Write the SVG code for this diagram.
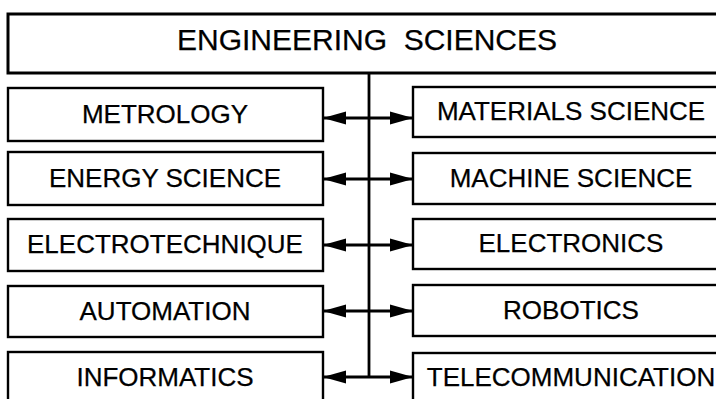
<svg xmlns="http://www.w3.org/2000/svg" width="716" height="399" viewBox="0 0 716 399">
<style>
.box{fill:#fff;stroke:#000;stroke-width:2.4}
.title{fill:#fff;stroke:#000;stroke-width:3}
.t{font-family:"Liberation Sans",Arial,sans-serif;font-size:26px;fill:#000;stroke:#000;stroke-width:0.25;text-anchor:middle}
.tt{font-family:"Liberation Sans",Arial,sans-serif;font-size:30px;fill:#000;stroke:#000;stroke-width:0.25;text-anchor:middle}
.c{stroke:#000;stroke-width:2.8;fill:none}
</style>
<defs>
<marker id="ah" markerUnits="userSpaceOnUse" markerWidth="24" markerHeight="14" refX="22" refY="7" orient="auto-start-reverse">
<path d="M0,0.5 L23,7 L0,13.5 Z" fill="#000"/>
</marker>
</defs>
<rect width="716" height="399" fill="#fff"/>
<g id="engineering-sciences">
<rect class="title" x="8" y="14" width="740" height="59"/>
<text class="tt" x="367" y="50" xml:space="preserve">ENGINEERING  SCIENCES</text>
</g>
<g id="connectors">
<line class="c" x1="369" y1="73" x2="369" y2="378"/>
<line class="c" x1="324" y1="118" x2="412" y2="118" marker-start="url(#ah)" marker-end="url(#ah)"/>
<line class="c" x1="324" y1="179" x2="412" y2="179" marker-start="url(#ah)" marker-end="url(#ah)"/>
<line class="c" x1="324" y1="245" x2="412" y2="245" marker-start="url(#ah)" marker-end="url(#ah)"/>
<line class="c" x1="324" y1="311" x2="412" y2="311" marker-start="url(#ah)" marker-end="url(#ah)"/>
<line class="c" x1="324" y1="377" x2="412" y2="377" marker-start="url(#ah)" marker-end="url(#ah)"/>
</g>
<g id="metrology"><rect class="box" x="8" y="88" width="315" height="53"/><text class="t" x="165" y="123">METROLOGY</text></g>
<g id="energy-science"><rect class="box" x="8" y="152" width="315" height="53"/><text class="t" x="165" y="187">ENERGY SCIENCE</text></g>
<g id="electrotechnique"><rect class="box" x="8" y="219" width="315" height="52"/><text class="t" x="165" y="253">ELECTROTECHNIQUE</text></g>
<g id="automation"><rect class="box" x="8" y="286" width="315" height="51"/><text class="t" x="165" y="320">AUTOMATION</text></g>
<g id="informatics"><rect class="box" x="8" y="352" width="315" height="60"/><text class="t" x="165" y="386">INFORMATICS</text></g>
<g id="materials-science"><rect class="box" x="413" y="87" width="320" height="50"/><text class="t" x="571" y="120">MATERIALS SCIENCE</text></g>
<g id="machine-science"><rect class="box" x="413" y="153" width="320" height="51"/><text class="t" x="571" y="187">MACHINE SCIENCE</text></g>
<g id="electronics"><rect class="box" x="413" y="219" width="320" height="50"/><text class="t" x="571" y="252">ELECTRONICS</text></g>
<g id="robotics"><rect class="box" x="413" y="285" width="320" height="51"/><text class="t" x="571" y="319">ROBOTICS</text></g>
<g id="telecommunication"><rect class="box" x="413" y="353" width="320" height="60"/><text class="t" x="571" y="386">TELECOMMUNICATION</text></g>
</svg>
